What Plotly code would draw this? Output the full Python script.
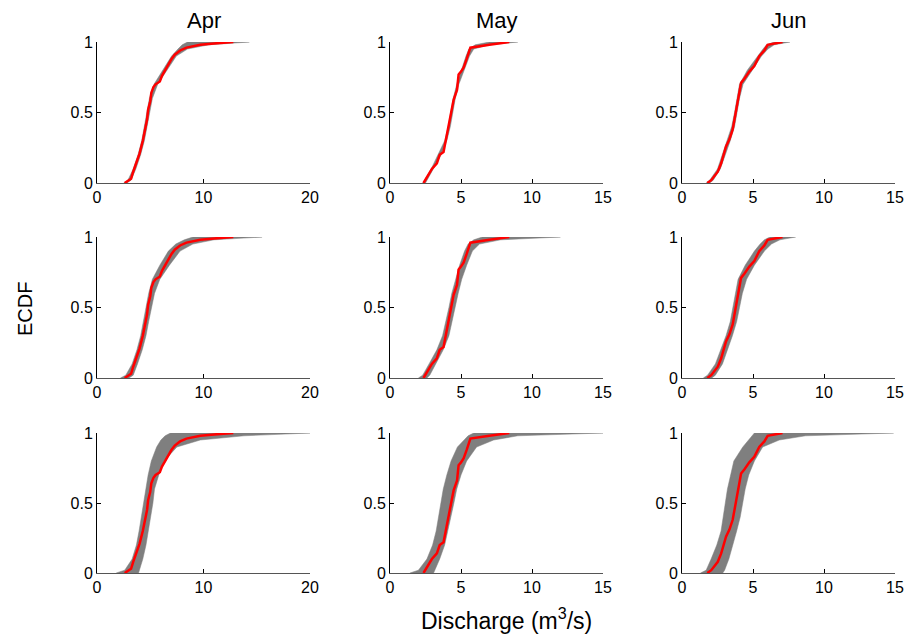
import plotly.graph_objects as go
from plotly.subplots import make_subplots

# Month columns and x-axis settings
months = ['Apr', 'May', 'Jun']
x_max = [20, 15, 15]
x_ticks = [[0, 10, 20], [0, 5, 10, 15], [0, 5, 10, 15]]

# Probability levels for the simulated envelopes
p_levels = [0, 0.02, 0.1, 0.2, 0.3, 0.4, 0.5, 0.6, 0.7, 0.8, 0.9, 0.95, 0.98, 1.0]

# Observed ECDF (red line), one per month
apr_obs_x = [2.6, 3.2, 3.4, 3.7, 4.0, 4.3, 4.5, 4.7, 4.8, 5.0, 5.1, 5.3, 5.5, 5.9, 6.1, 6.4, 6.7, 7.0, 7.3, 7.8, 8.4, 9.7, 11.0, 12.8]
apr_obs_y = [0.0, 0.03, 0.08, 0.14, 0.21, 0.30, 0.38, 0.45, 0.52, 0.58, 0.64, 0.68, 0.70, 0.72, 0.76, 0.80, 0.85, 0.88, 0.91, 0.94, 0.96, 0.98, 0.99, 1.0]
may_obs_x = [2.36, 2.55, 2.8, 2.95, 3.3, 3.5, 3.77, 3.96, 4.1, 4.25, 4.48, 4.72, 4.83, 5.0, 5.19, 5.4, 5.66, 7.0, 8.4]
may_obs_y = [0.0, 0.03, 0.07, 0.10, 0.14, 0.20, 0.22, 0.32, 0.38, 0.45, 0.59, 0.66, 0.77, 0.79, 0.82, 0.88, 0.96, 0.98, 1.0]
jun_obs_x = [1.78, 2.06, 2.52, 2.76, 3.1, 3.34, 3.57, 3.81, 3.93, 4.16, 4.39, 4.74, 5.09, 5.44, 5.8, 6.03, 7.08]
jun_obs_y = [0.0, 0.02, 0.08, 0.14, 0.26, 0.31, 0.38, 0.52, 0.59, 0.71, 0.74, 0.79, 0.83, 0.90, 0.94, 0.98, 1.0]

# Simulated envelopes (grey bands): lower / upper discharge at each probability level
apr_r1_lo = [2.5, 2.9, 3.4, 3.85, 4.2, 4.45, 4.68, 4.92, 5.35, 6.2, 7.0, 7.6, 8.0, 8.5]
apr_r1_hi = [2.8, 3.2, 3.65, 4.1, 4.45, 4.7, 4.95, 5.2, 5.7, 6.55, 7.45, 8.5, 10.5, 14.3]
apr_r2_lo = [2.2, 2.7, 3.3, 3.75, 4.1, 4.35, 4.6, 4.85, 5.2, 5.9, 6.7, 7.4, 8.2, 9.0]
apr_r2_hi = [3.0, 3.4, 3.8, 4.25, 4.6, 4.85, 5.1, 5.4, 5.9, 6.8, 7.8, 9.0, 11.0, 15.5]
apr_r3_lo = [1.8, 2.6, 3.3, 3.7, 3.95, 4.15, 4.4, 4.6, 4.8, 5.1, 5.6, 6.0, 6.4, 6.9]
apr_r3_hi = [3.9, 4.0, 4.3, 4.6, 4.8, 5.05, 5.25, 5.4, 5.8, 6.3, 7.5, 9.7, 13.8, 20.0]

may_r1_lo = [2.3, 2.45, 2.9, 3.4, 3.85, 4.1, 4.28, 4.45, 4.7, 5.0, 5.35, 5.55, 6.0, 7.0]
may_r1_hi = [2.5, 2.65, 3.05, 3.6, 4.0, 4.25, 4.42, 4.6, 4.85, 5.2, 5.6, 5.9, 7.0, 9.0]
may_r2_lo = [2.0, 2.3, 2.75, 3.3, 3.7, 3.95, 4.15, 4.35, 4.6, 4.9, 5.25, 5.5, 5.9, 6.5]
may_r2_hi = [2.6, 2.8, 3.2, 3.75, 4.15, 4.4, 4.6, 4.8, 5.05, 5.4, 5.8, 6.3, 7.8, 12.0]
may_r3_lo = [1.4, 2.0, 2.6, 3.0, 3.25, 3.4, 3.55, 3.75, 4.0, 4.3, 4.75, 5.2, 5.5, 5.9]
may_r3_hi = [3.07, 3.2, 3.5, 3.85, 4.1, 4.3, 4.5, 4.7, 5.0, 5.4, 6.1, 7.3, 9.0, 15.0]

jun_r1_lo = [1.7, 1.95, 2.5, 2.85, 3.2, 3.5, 3.7, 3.87, 4.05, 4.6, 5.3, 5.7, 5.95, 6.5]
jun_r1_hi = [1.95, 2.2, 2.7, 3.05, 3.4, 3.7, 3.88, 4.05, 4.3, 4.95, 5.6, 6.05, 6.5, 7.6]
jun_r2_lo = [1.5, 1.8, 2.35, 2.75, 3.1, 3.4, 3.6, 3.75, 3.95, 4.45, 5.1, 5.5, 5.8, 6.2]
jun_r2_hi = [2.1, 2.35, 2.85, 3.2, 3.55, 3.85, 4.05, 4.25, 4.55, 5.1, 5.8, 6.3, 6.9, 8.0]
jun_r3_lo = [1.3, 1.7, 2.05, 2.45, 2.75, 2.92, 3.05, 3.2, 3.4, 3.65, 4.28, 4.7, 4.95, 5.1]
jun_r3_hi = [2.87, 3.0, 3.3, 3.6, 3.85, 4.1, 4.3, 4.45, 4.7, 5.1, 5.68, 6.85, 8.7, 14.9]

observed = [(apr_obs_x, apr_obs_y), (may_obs_x, may_obs_y), (jun_obs_x, jun_obs_y)]
bands = [
    [(apr_r1_lo, apr_r1_hi), (apr_r2_lo, apr_r2_hi), (apr_r3_lo, apr_r3_hi)],
    [(may_r1_lo, may_r1_hi), (may_r2_lo, may_r2_hi), (may_r3_lo, may_r3_hi)],
    [(jun_r1_lo, jun_r1_hi), (jun_r2_lo, jun_r2_hi), (jun_r3_lo, jun_r3_hi)],
]

# body margin is removed in the page (see post_script), so pixels map directly
W, H = 908, 635
col_px = [(97, 310), (390, 603), (682, 895)]
row_px = [(42, 183), (237, 378), (433, 573)]


def px_x(p):
    return p / W


def px_y(p):
    return 1 - p / H


fig = make_subplots(rows=3, cols=3)
font = 'Liberation Sans, Arial, sans-serif'

for c in range(3):
    for r in range(3):
        lo, hi = bands[c][r]
        fig.add_trace(go.Scatter(
            x=lo + hi[::-1], y=p_levels + p_levels[::-1],
            fill='toself', fillcolor='#7f7f7f', mode='lines',
            line=dict(width=0.5, color='#7f7f7f'), hoverinfo='skip'
        ), row=r + 1, col=c + 1)
        ox, oy = observed[c]
        fig.add_trace(go.Scatter(
            x=ox, y=oy, mode='lines', line=dict(color='#ff0000', width=2.5)
        ), row=r + 1, col=c + 1)

        idx = r * 3 + c + 1
        xa = 'xaxis' if idx == 1 else 'xaxis%d' % idx
        ya = 'yaxis' if idx == 1 else 'yaxis%d' % idx
        fig.layout[xa].update(
            domain=[px_x(col_px[c][0]), px_x(col_px[c][1])],
            range=[0, x_max[c]], tickvals=x_ticks[c],
            ticks='inside', ticklen=4, tickcolor='black',
            showline=True, linecolor='#555555', linewidth=1,
            showgrid=False, zeroline=False, automargin=False,
            tickfont=dict(size=16, color='black', family=font)
        )
        fig.layout[ya].update(
            domain=[px_y(row_px[r][1]), px_y(row_px[r][0])],
            range=[0, 1], tickvals=[0, 0.5, 1], ticktext=['0', '0.5', '1'],
            ticks='inside', ticklen=4, tickcolor='black',
            showline=True, linecolor='black', linewidth=1,
            showgrid=False, zeroline=False, automargin=False,
            tickfont=dict(size=16, color='black', family=font)
        )

# Column titles
for c, m in enumerate(months):
    fig.add_annotation(x=px_x((col_px[c][0] + col_px[c][1]) / 2), y=px_y(21),
                       xref='paper', yref='paper', text=m, showarrow=False,
                       xanchor='center', yanchor='middle',
                       font=dict(size=22, color='black', family=font))

fig.add_annotation(x=px_x(25), y=px_y(309), xref='paper', yref='paper',
                   text='ECDF', textangle=-90, showarrow=False,
                   xanchor='center', yanchor='middle',
                   font=dict(size=20, color='black', family=font))
fig.add_annotation(x=px_x(506), y=px_y(619), xref='paper', yref='paper',
                   text='Discharge (m<sup>3</sup>/s)', showarrow=False,
                   xanchor='center', yanchor='middle',
                   font=dict(size=23, color='black', family=font))

fig.update_layout(
    width=W, height=H, showlegend=False, hovermode=False,
    margin=dict(l=0, r=0, t=0, b=0),
    paper_bgcolor='white', plot_bgcolor='white'
)

fig.write_html("out.html", config={'displayModeBar': False},
               post_script="document.body.style.margin='0';document.body.style.overflow='hidden';")
